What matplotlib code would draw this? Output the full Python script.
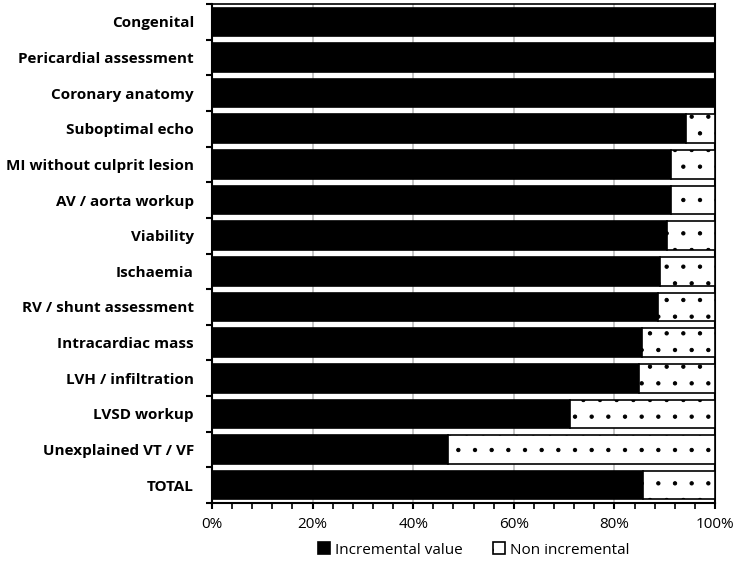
import matplotlib
matplotlib.use("Agg")
import matplotlib.pyplot as plt
from matplotlib.ticker import MultipleLocator, FuncFormatter
import numpy as np

categories = ["Congenital", "Pericardial assessment", "Coronary anatomy", "Suboptimal echo",
              "MI without culprit lesion", "AV / aorta workup", "Viability", "Ischaemia",
              "RV / shunt assessment", "Intracardiac mass", "LVH / infiltration", "LVSD workup",
              "Unexplained VT / VF", "TOTAL"]
incremental = [100, 100, 100, 94.2, 91.2, 91.2, 90.5, 89.1, 88.7, 85.4, 84.9, 71.2, 46.9, 85.7]
non_incremental = [100 - v for v in incremental]
xticks = [0, 20, 40, 60, 80, 100]

plt.rcParams['font.family'] = ['Open Sans', 'DejaVu Sans']
plt.rcParams['hatch.linewidth'] = 0.7

fig = plt.figure(figsize=(7.4, 5.75), dpi=100)
ax = fig.add_axes([212/740, 1-503/575, (715-212)/740, (503-4)/575])

y = np.arange(len(categories))
h = 0.8
ax.barh(y, incremental, height=h, color='black', edgecolor='black', linewidth=1.2, zorder=3,
        label='Incremental value')
ax.barh(y, non_incremental, left=incremental, height=h, color='white', edgecolor='black',
        linewidth=1.2, hatch='.', zorder=3, label='Non incremental')

ax.set_xlim(0, 100)
ax.set_ylim(len(categories) - 0.5, -0.5)
ax.set_yticks(y)
ax.set_yticklabels(categories, fontsize=11, fontweight='bold')
ax.yaxis.set_minor_locator(MultipleLocator(1, offset=0.5))
ax.tick_params(axis='y', which='major', length=0, pad=13)
ax.tick_params(axis='y', which='minor', length=4, width=1.5, color='black')

ax.set_xticks(xticks)
ax.xaxis.set_major_formatter(FuncFormatter(lambda v, p: f"{int(v)}%"))
ax.xaxis.set_minor_locator(MultipleLocator(4))
ax.tick_params(axis='x', which='major', length=4, width=1.5, labelsize=11, pad=6)
ax.tick_params(axis='x', which='minor', length=4, width=1.2)

ax.grid(axis='x', which='major', color='#bbbbbb', linewidth=1.2, zorder=0)
for s in ax.spines.values():
    s.set_linewidth(1.5)
ax.spines['top'].set_linewidth(1.2)

leg = ax.legend(loc='center', bbox_to_anchor=(0.52, -47/499), ncol=2, frameon=False,
                fontsize=11, handlelength=0.8, handleheight=0.8, handletextpad=0.3,
                columnspacing=2.0)

fig.savefig("out.png", dpi=100)
